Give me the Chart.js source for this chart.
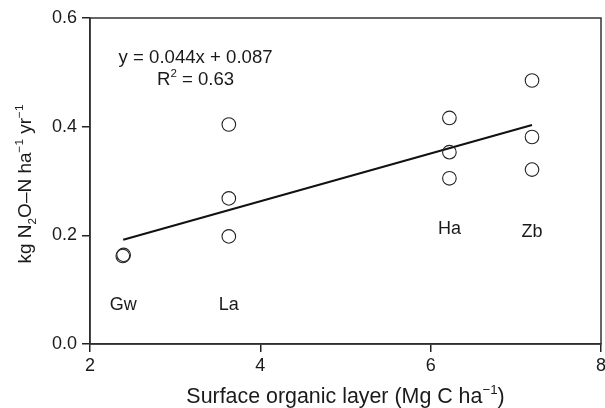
<!DOCTYPE html>
<html>
<head>
<meta charset="utf-8">
<script src="https://cdn.jsdelivr.net/npm/chart.js@4/dist/chart.umd.min.js"></script>
<style>
  html, body { margin: 0; padding: 0; background: #fff; }
</style>
</head>
<body>
<canvas id="grafico" width="605" height="408"></canvas>
<script>
// datos
var sitios = ['Gw', 'Gw', 'La', 'La', 'La', 'Ha', 'Ha', 'Ha', 'Zb', 'Zb', 'Zb'];
var carbono = [2.385, 2.395, 3.63, 3.63, 3.63, 6.22, 6.22, 6.22, 7.19, 7.19, 7.19];
var n2o = [0.162, 0.164, 0.404, 0.268, 0.198, 0.416, 0.353, 0.305, 0.485, 0.381, 0.321];

// recta de regresion (extremos)
var tendenciaX = [2.39, 7.19];
var tendenciaY = [0.192, 0.403];

// etiquetas de sitio
var etiquetas = ['Gw', 'La', 'Ha', 'Zb'];
var etiquetaX = [2.39, 3.63, 6.22, 7.19];
var etiquetaY = [0.071, 0.071, 0.212, 0.206];

// ecuacion
var ecuacion = 'y = 0.044x + 0.087';
var r2 = '0.63';
var ecuacionX = 3.24;
var ecuacionY = [0.527, 0.488];

var ticksX = [2, 4, 6, 8];
var ticksY = [0.0, 0.2, 0.4, 0.6];

var fuente = '"Liberation Sans", Arial, Helvetica, sans-serif';
var negro = '#1a1a1a';

// dibuja texto con subindices / superindices
function textoRico(ctx, partes, x, y, size) {
  var total = 0;
  partes.forEach(function (p) {
    var s = p.s ? size * 0.62 : size;
    ctx.font = s + 'px ' + fuente;
    p.w = ctx.measureText(p.t).width;
    total += p.w;
  });
  var cx = x - total / 2;
  ctx.textAlign = 'left';
  ctx.textBaseline = 'alphabetic';
  partes.forEach(function (p) {
    var s = p.s ? size * 0.62 : size;
    ctx.font = s + 'px ' + fuente;
    var dy = 0;
    if (p.s === 1) dy = -size * 0.42;
    if (p.s === -1) dy = size * 0.28;
    ctx.fillText(p.t, cx, y + dy);
    cx += p.w;
  });
}

var textos = {
  id: 'textos',
  afterDraw: function (chart) {
    var ctx = chart.ctx;
    var a = chart.chartArea;
    var sx = chart.scales.x, sy = chart.scales.y;
    ctx.save();
    // marco
    ctx.strokeStyle = '#333';
    ctx.lineWidth = 1.5;
    ctx.strokeRect(a.left, a.top, a.right - a.left, a.bottom - a.top);

    ctx.fillStyle = negro;
    // etiquetas de sitio
    ctx.font = '18px ' + fuente;
    ctx.textAlign = 'center';
    ctx.textBaseline = 'middle';
    for (var i = 0; i < etiquetas.length; i++) {
      ctx.fillText(etiquetas[i], sx.getPixelForValue(etiquetaX[i]), sy.getPixelForValue(etiquetaY[i]));
    }
    // ecuacion
    var ex = sx.getPixelForValue(ecuacionX);
    ctx.font = '18.6px ' + fuente;
    ctx.fillText(ecuacion, ex, sy.getPixelForValue(ecuacionY[0]));
    textoRico(ctx, [{t: 'R'}, {t: '2', s: 1}, {t: ' = ' + r2}], ex, sy.getPixelForValue(ecuacionY[1]) + 6, 18.6);

    // titulo eje x
    textoRico(ctx, [{t: 'Surface organic layer (Mg C ha'}, {t: '\u22121', s: 1}, {t: ')'}],
      (a.left + a.right) / 2, 403, 21.4);

    // titulo eje y
    ctx.translate(31, (a.top + a.bottom) / 2 + 3);
    ctx.rotate(-Math.PI / 2);
    textoRico(ctx, [{t: 'kg N'}, {t: '2', s: -1}, {t: 'O\u2013N ha'}, {t: '\u22121', s: 1},
      {t: ' yr'}, {t: '\u22121', s: 1}], 0, 0, 19);
    ctx.restore();
  }
};

var ctx = document.getElementById('grafico').getContext('2d');

var puntos = carbono.map(function (c, i) { return {x: c, y: n2o[i]}; });
var recta = tendenciaX.map(function (c, i) { return {x: c, y: tendenciaY[i]}; });

var miGrafico = new Chart(ctx, {
  type: 'scatter',
  data: {
    datasets: [{
      label: 'N2O',
      data: puntos,
      pointRadius: 6.8,
      pointBorderWidth: 1.1,
      borderColor: '#222',
      backgroundColor: 'rgba(0,0,0,0)'
    }, {
      type: 'line',
      label: 'Regresion',
      data: recta,
      borderColor: '#111',
      borderWidth: 2,
      pointRadius: 0,
      fill: false
    }]
  },
  options: {
    responsive: false,
    devicePixelRatio: 1,
    animation: false,
    layout: { autoPadding: false, padding: { top: 18, right: 4, left: 0, bottom: 0 } },
    plugins: { legend: { display: false }, tooltip: { enabled: false } },
    scales: {
      x: {
        type: 'linear',
        min: 2, max: 8,
        afterBuildTicks: function (s) { s.ticks = ticksX.map(function (v) { return {value: v}; }); },
        afterFit: function (s) { s.height = 64; s.paddingLeft = 0; s.paddingRight = 0; },
        ticks: { font: { family: fuente, size: 18 }, color: negro, padding: 3, maxRotation: 0 },
        grid: { drawOnChartArea: false, drawTicks: true, tickLength: 8, color: '#222', lineWidth: 1.5 },
        border: { color: '#222', width: 1.5 }
      },
      y: {
        type: 'linear',
        min: 0, max: 0.6,
        afterBuildTicks: function (s) { s.ticks = ticksY.map(function (v) { return {value: v}; }); },
        afterFit: function (s) { s.width = 90; s.paddingTop = 0; s.paddingBottom = 0; },
        ticks: {
          font: { family: fuente, size: 18 }, color: negro, padding: 5,
          callback: function (v) { return v.toFixed(1); }
        },
        grid: { drawOnChartArea: false, drawTicks: true, tickLength: 8, color: '#222', lineWidth: 1.5 },
        border: { color: '#222', width: 1.5 }
      }
    }
  },
  plugins: [textos]
});
</script>
</body>
</html>
